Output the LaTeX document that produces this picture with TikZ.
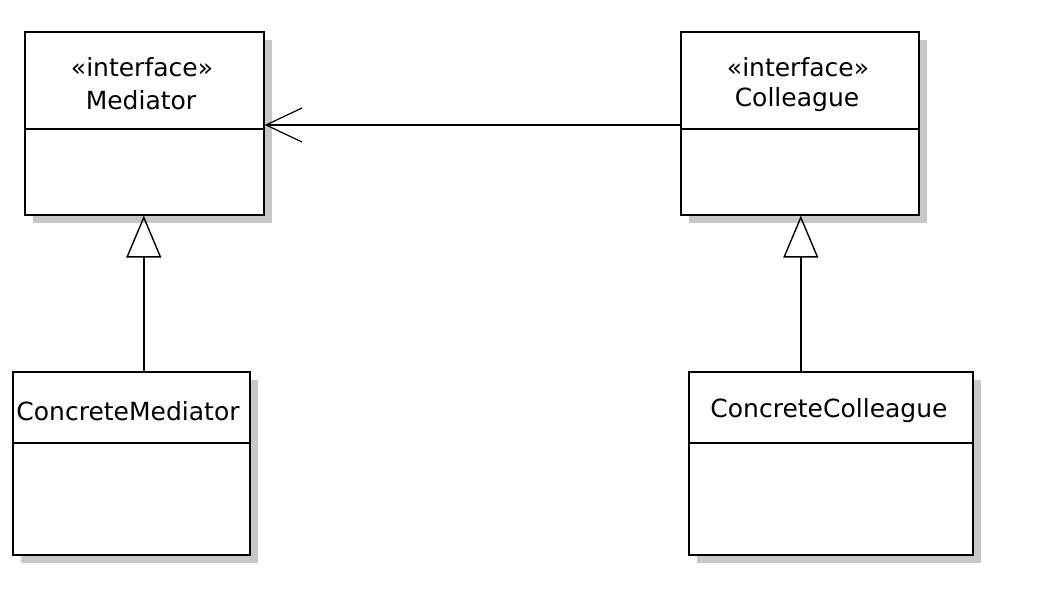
\documentclass[tikz,border=0pt]{standalone}
\usepackage{fontspec}
\setmainfont{DejaVu Sans}
\usetikzlibrary{shadows,arrows.meta}
\definecolor{shadowgray}{RGB}{200,200,200}
\begin{document}
\begin{tikzpicture}[x=1pt,y=-1pt,
  classbox/.style={draw=black, line width=1.6pt, fill=white, rectangle, inner sep=0pt,
    anchor=north west, minimum height=183pt,
    general shadow={fill=shadowgray, shadow xshift=8pt, shadow yshift=-8pt}},
  lbl/.style={font=\fontsize{25}{25}\selectfont, inner sep=0pt},
  divider/.style={line width=1.6pt},
  conn/.style={line width=1.5pt}]
\useasboundingbox (0,0) rectangle (1046,590);
% boxes
\node[classbox, minimum width=239pt] (med) at (24,31) {};
\node[classbox, minimum width=238pt] (col) at (680,31) {};
\node[classbox, minimum width=237pt] (cmed) at (12,371) {};
\node[classbox, minimum width=284pt] (ccol) at (688,371) {};
% dividers
\draw[divider] (med.west |- 0,129) -- (med.east |- 0,129);
\draw[divider] (col.west |- 0,129) -- (col.east |- 0,129);
\draw[divider] (cmed.west |- 0,443) -- (cmed.east |- 0,443);
\draw[divider] (ccol.west |- 0,443) -- (ccol.east |- 0,443);
% labels
\node[lbl] (medst) at (142,67) {«interface»};
\node[lbl] (medname) at (141,100) {Mediator};
\node[lbl] (colst) at (798,67) {«interface»};
\node[lbl] (colname) at (797,100) {Colleague};
\node[lbl] (cmedname) at (128,411) {ConcreteMediator};
\node[lbl] (ccolname) at (829,411) {ConcreteColleague};
% generalizations
\draw[conn, -{Triangle[open, length=42pt, width=35pt, line width=1.4pt]}]
  ([xshift=-0.5pt]med.south |- cmed.north) -- ([xshift=-0.5pt]med.south);
\draw[conn, -{Triangle[open, length=42pt, width=35pt, line width=1.4pt]}]
  ([xshift=1pt]col.south |- ccol.north) -- ([xshift=1pt]col.south);
% association
\draw[conn, -{Straight Barb[length=36pt, width=34pt, line width=1.2pt]}]
  (col.west |- 0,125) -- (med.east |- 0,125);
\end{tikzpicture}
\end{document}
